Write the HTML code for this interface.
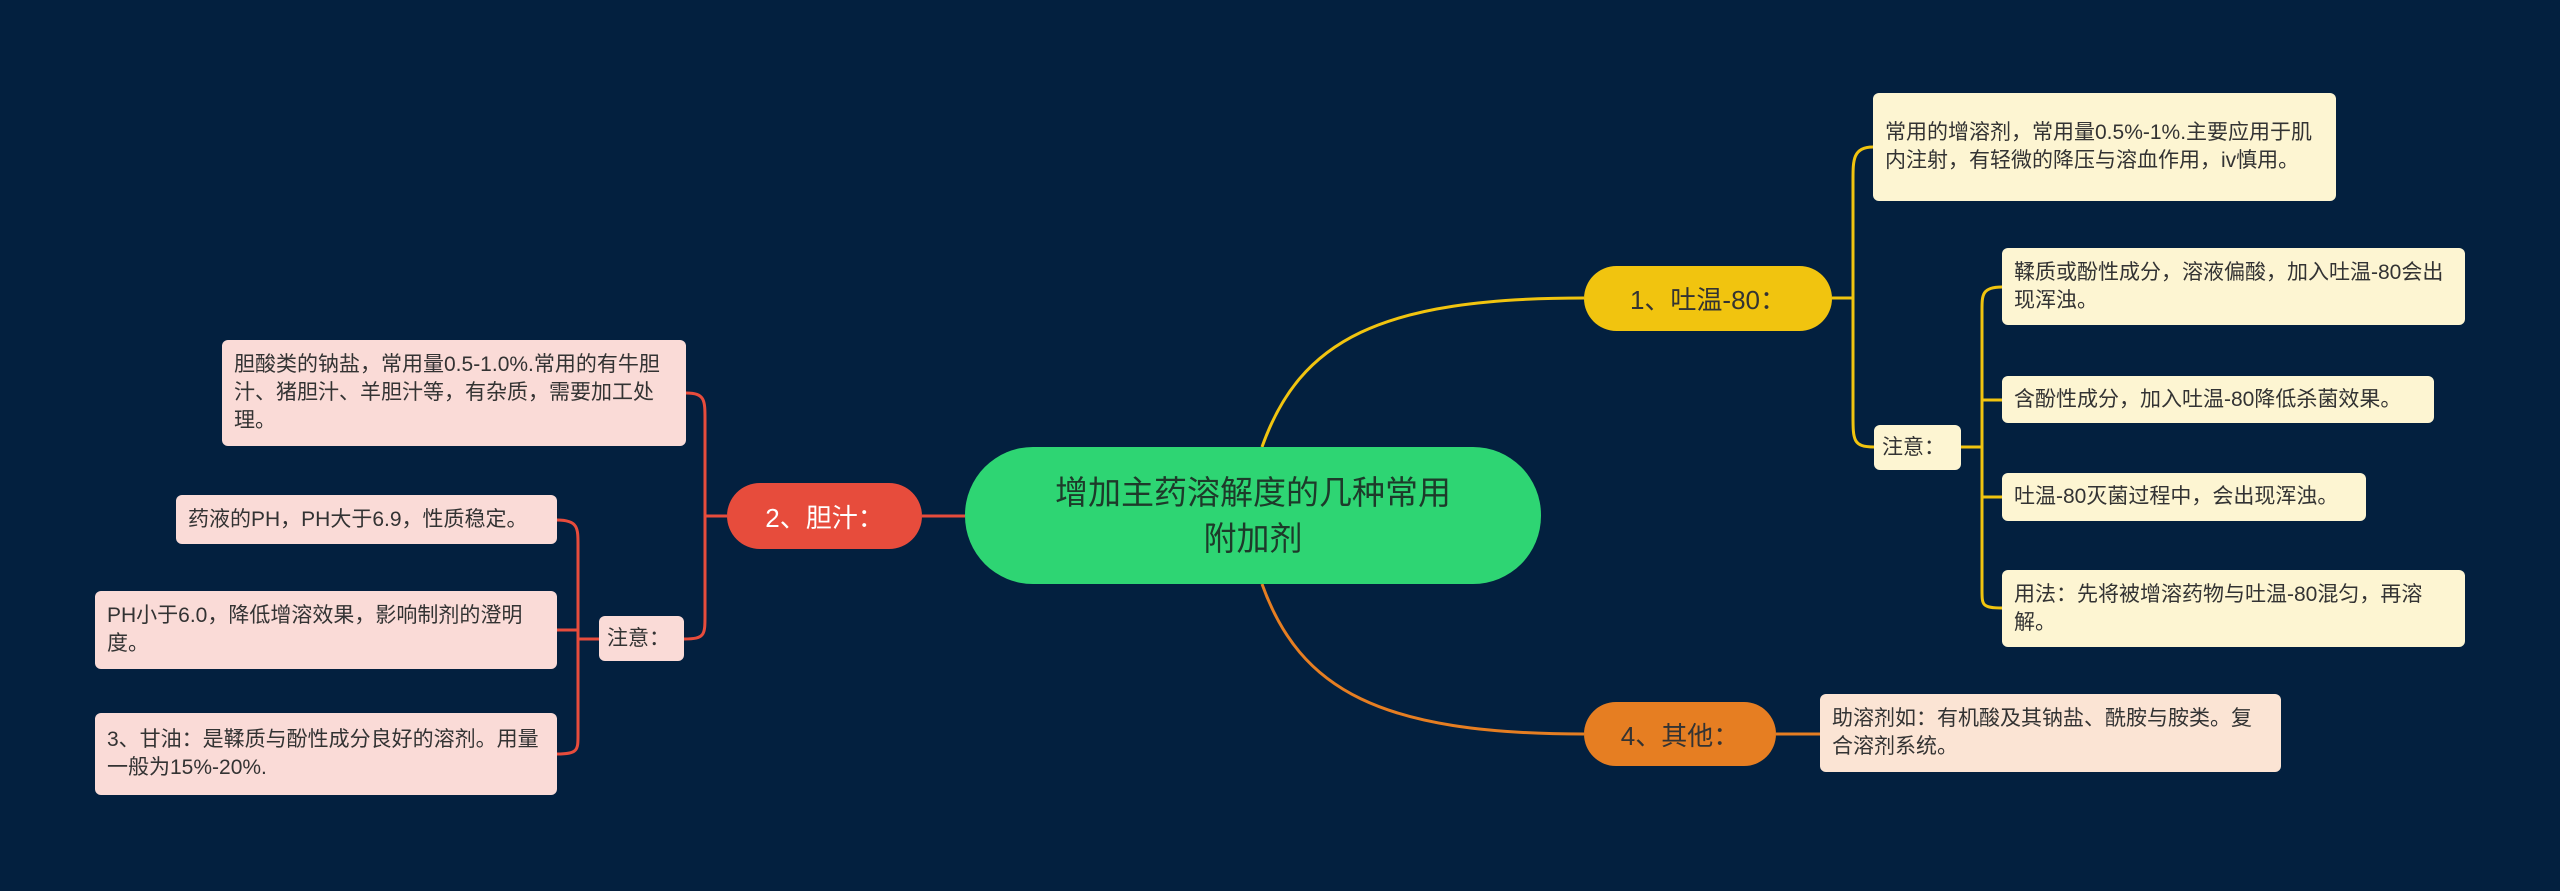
<!DOCTYPE html>
<html><head><meta charset="utf-8"><style>
body{margin:0;width:2560px;height:891px;background:#03203f;overflow:hidden;position:relative;font-family:"Liberation Sans","Noto Sans CJK SC",sans-serif}
.n{position:absolute;box-sizing:border-box;display:flex;align-items:center;}
.leaf{border-radius:6px;font-size:21px;line-height:28px;padding:0 16px 0 12px;color:#333}
.y{background:#fdf5d2}.p{background:#fadbd7}.o{background:#fbe4d4}
.t{border-radius:40px;justify-content:center;font-size:26px;white-space:nowrap}
.nw{white-space:nowrap;padding:0 8px}
</style></head><body>
<svg width="2560" height="891" style="position:absolute;left:0;top:0" fill="none">
<path d="M1262 447 C1300 340,1380 298,1584 298" stroke="#f1c40f" stroke-width="3"/>
<path d="M1262 584 C1300 690,1380 734,1584 734" stroke="#e67e22" stroke-width="3"/>
<path d="M922 516 L965 516" stroke="#e74c3c" stroke-width="3"/>
<path d="M1832 298 H1853 M1873 147 C1853 147,1853 160,1853 180 V415 C1853 440,1853 447,1874 447" stroke="#f1c40f" stroke-width="3"/>
<path d="M1961 447 H1982 M2002 287 C1982 287,1982 295,1982 310 V590 C1982 605,1982 608,2002 608 M1982 400 C1982 400,1985 400,2002 400 M1982 497 H2002" stroke="#f1c40f" stroke-width="3"/>
<path d="M1776 734 H1820" stroke="#e67e22" stroke-width="3"/>
<path d="M727 516 H705 M686 393 C705 393,705 400,705 420 V615 C705 635,705 639,684 639" stroke="#e74c3c" stroke-width="3"/>
<path d="M599 639 H578 M557 520 C578 520,578 528,578 545 V735 C578 750,578 754,557 754 M578 630 H557" stroke="#e74c3c" stroke-width="3"/>
</svg>
<div class="n" style="left:965px;top:447px;width:576px;height:137px;background:#2ed573;border-radius:68px;font-size:33px;line-height:46px;color:#1d3a2a;text-align:center;padding:0 78px;justify-content:center">增加主药溶解度的几种常用附加剂</div>
<div class="n t" style="left:1584px;top:266px;width:248px;height:65px;background:#f1c40f;color:#333">1、吐温-80：</div>
<div class="n t" style="left:1584px;top:702px;width:192px;height:64px;background:#e67e22;color:#333">4、其他：</div>
<div class="n t" style="left:727px;top:483px;width:195px;height:66px;background:#e74c3c;color:#fff">2、胆汁：</div>
<div class="n leaf y" style="left:1873px;top:93px;width:463px;height:108px">常用的增溶剂，常用量0.5%-1%.主要应用于肌内注射，有轻微的降压与溶血作用，iv慎用。</div>
<div class="n leaf y nw" style="left:1874px;top:425px;width:87px;height:45px">注意：</div>
<div class="n leaf y" style="left:2002px;top:248px;width:463px;height:77px">鞣质或酚性成分，溶液偏酸，加入吐温-80会出现浑浊。</div>
<div class="n leaf y" style="left:2002px;top:376px;width:432px;height:47px">含酚性成分，加入吐温-80降低杀菌效果。</div>
<div class="n leaf y" style="left:2002px;top:473px;width:364px;height:48px">吐温-80灭菌过程中，会出现浑浊。</div>
<div class="n leaf y" style="left:2002px;top:570px;width:463px;height:77px">用法：先将被增溶药物与吐温-80混匀，再溶解。</div>
<div class="n leaf o" style="left:1820px;top:694px;width:461px;height:78px">助溶剂如：有机酸及其钠盐、酰胺与胺类。复合溶剂系统。</div>
<div class="n leaf p" style="left:222px;top:340px;width:464px;height:106px">胆酸类的钠盐，常用量0.5-1.0%.常用的有牛胆汁、猪胆汁、羊胆汁等，有杂质，需要加工处理。</div>
<div class="n leaf p nw" style="left:599px;top:616px;width:85px;height:45px">注意：</div>
<div class="n leaf p" style="left:176px;top:495px;width:381px;height:49px">药液的PH，PH大于6.9，性质稳定。</div>
<div class="n leaf p" style="left:95px;top:591px;width:462px;height:78px">PH小于6.0，降低增溶效果，影响制剂的澄明度。</div>
<div class="n leaf p" style="left:95px;top:713px;width:462px;height:82px">3、甘油：是鞣质与酚性成分良好的溶剂。用量一般为15%-20%.</div>
</body></html>
